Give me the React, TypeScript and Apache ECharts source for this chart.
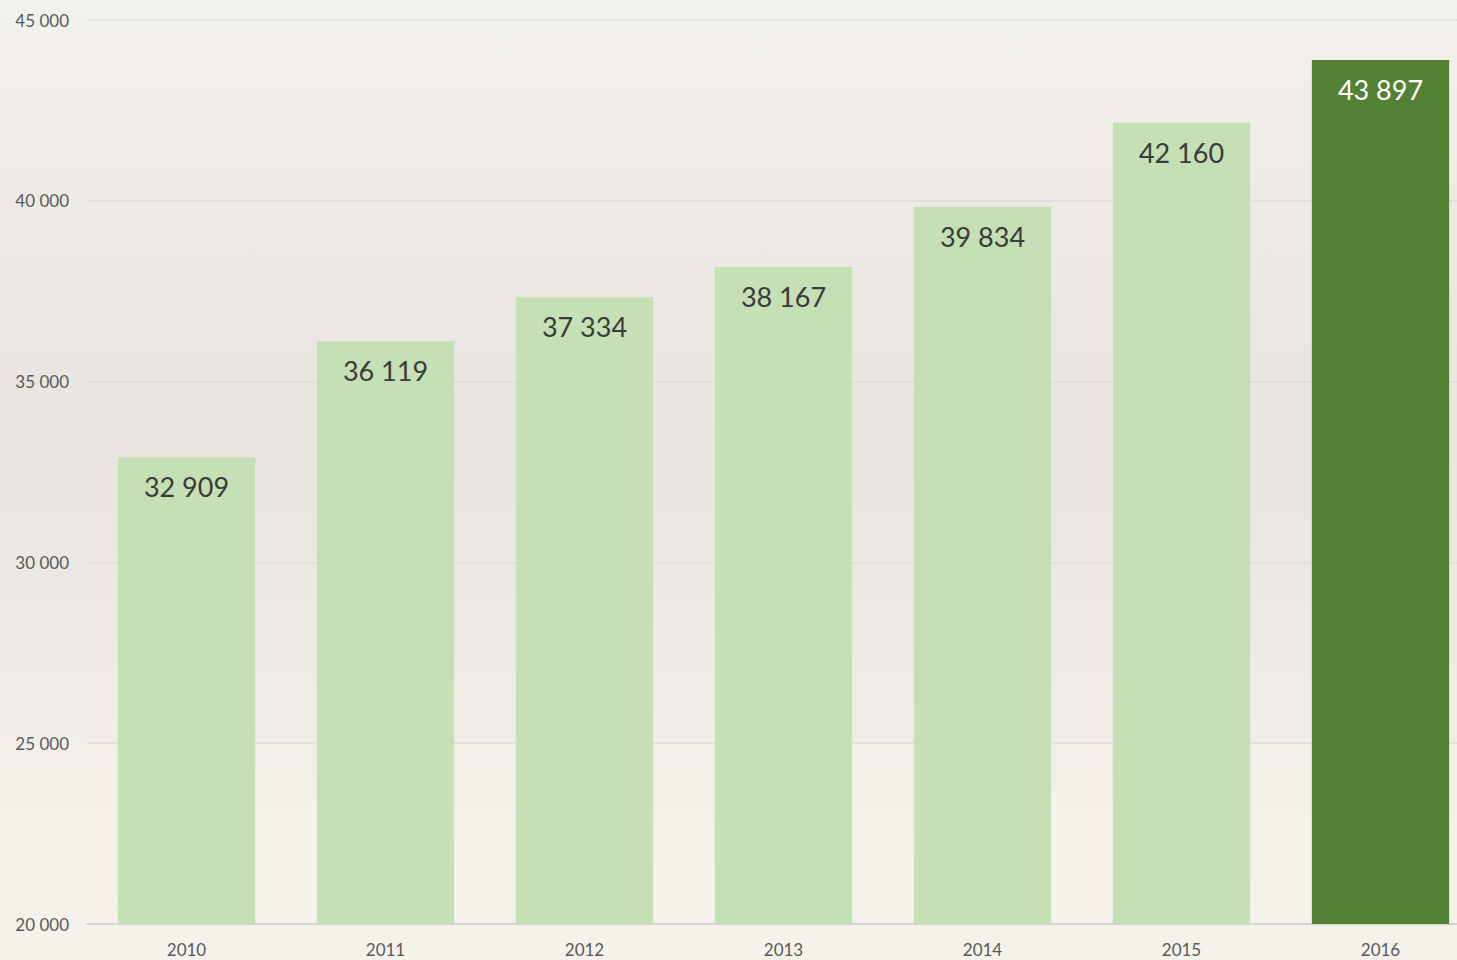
import React, { useEffect, useRef } from "react";
import * as echarts from "echarts";

const years = ["2010", "2011", "2012", "2013", "2014", "2015", "2016"];
const values = [32909, 36119, 37334, 38167, 39834, 42160, 43897];
const axisMin = 20000;
const axisMax = 45000;
const axisStep = 5000;

const fmt = (v: number) => String(Math.round(v)).replace(/\B(?=(\d{3})+(?!\d))/g, " ");

export default function App() {
  const ref = useRef<HTMLDivElement>(null);
  useEffect(() => {
    if (!ref.current) return;
    const chart = echarts.init(ref.current, null, { renderer: "svg" });
    const last = values.length - 1;
    chart.setOption({
      animation: false,
      backgroundColor: "transparent",
      textStyle: { fontFamily: "Lato" },
      grid: { left: 87, top: 20, right: 0, bottom: 36, containLabel: false },
      xAxis: {
        type: "category",
        data: years,
        axisTick: { show: false },
        axisLine: { lineStyle: { color: "#d4d4d4", width: 2 } },
        axisLabel: { color: "#595959", fontSize: 17, margin: 17, fontFamily: "Lato" },
      },
      yAxis: {
        type: "value",
        min: axisMin,
        max: axisMax,
        interval: axisStep,
        axisLine: { show: false },
        axisTick: { show: false },
        splitLine: { lineStyle: { color: "#dedcd8", width: 1.5 } },
        axisLabel: {
          color: "#595959",
          fontSize: 17,
          margin: 18,
          fontFamily: "Lato",
          formatter: (v: number) => fmt(v),
        },
      },
      series: [
        {
          type: "bar",
          barCategoryGap: "31%",
          data: values.map((v, i) => ({
            value: v,
            itemStyle: { color: i === last ? "#548235" : "#c5e0b4" },
            label: { color: i === last ? "#ffffff" : "#3b3b3b" },
          })),
          label: {
            show: true,
            position: "insideTop",
            distance: 16,
            fontSize: 27,
            fontFamily: "Lato",
            formatter: (p: any) => fmt(p.value),
          },
        },
      ],
    });
    return () => chart.dispose();
  }, []);
  return (
    <div
      style={{
        position: "fixed",
        left: 0,
        top: 0,
        width: 1457,
        height: 960,
        overflow: "hidden",
        background:
          "linear-gradient(180deg, #f3f1ed 0%, #eeebe7 20%, #e8e5e1 45%, #edeae5 65%, #f4f1eb 85%, #f5f2ec 100%)",
      }}
    >
      <div ref={ref} style={{ width: 1480, height: 960 }} />
    </div>
  );
}
